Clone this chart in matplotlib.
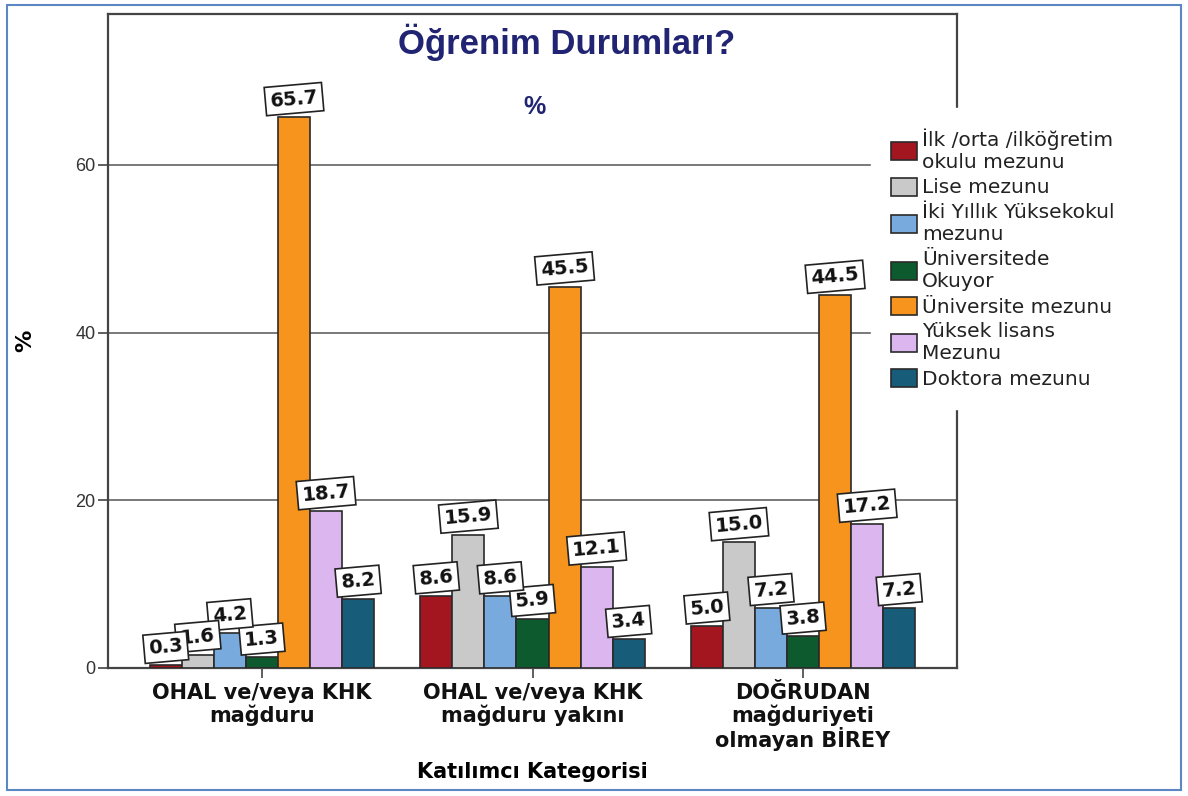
import matplotlib
matplotlib.use("Agg")
import matplotlib.pyplot as plt
import numpy as np
from matplotlib.patches import Rectangle

# kategoriler (x ekseni) ve öğrenim düzeyleri (seriler)
categories = ["OHAL ve/veya KHK\nmağduru",
              "OHAL ve/veya KHK\nmağduru yakını",
              "DOĞRUDAN\nmağduriyeti\nolmayan BİREY"]
levels = ["İlk /orta /ilköğretim\nokulu mezunu", "Lise mezunu",
          "İki Yıllık Yüksekokul\nmezunu", "Üniversitede\nOkuyor",
          "Üniversite mezunu", "Yüksek lisans\nMezunu", "Doktora mezunu"]

ilk_orta = [0.3, 8.6, 5.0]
lise = [1.6, 15.9, 15.0]
iki_yillik = [4.2, 8.6, 7.2]
uni_okuyor = [1.3, 5.9, 3.8]
uni_mezun = [65.7, 45.5, 44.5]
yuksek_lisans = [18.7, 12.1, 17.2]
doktora = [8.2, 3.4, 7.2]
series = [ilk_orta, lise, iki_yillik, uni_okuyor, uni_mezun, yuksek_lisans, doktora]

colors = ["#a4161f", "#c9c9c9", "#79aadd", "#0d5a2e", "#f7941d", "#dcb6ee", "#175c78"]

W, H = 1188, 796
fig = plt.figure(figsize=(W / 100, H / 100), dpi=100)
ax = fig.add_axes([108 / W, 1 - 668 / H, (957 - 108) / W, (668 - 14) / H])

x = np.arange(len(categories))
bw = 0.1185
handles = []
for i, (vals, c) in enumerate(zip(series, colors)):
    pos = x + (i - 3) * bw
    b = ax.bar(pos, vals, width=bw, color=c, edgecolor="#2a2a2a", linewidth=1.2, zorder=3)
    handles.append(b)
    for px, v in zip(pos, vals):
        ax.annotate(f"{v:.1f}", (px, v), xytext=(0, 13), textcoords="offset points",
                    ha="center", va="center", rotation=5, fontsize=14, fontweight="bold",
                    family="DejaVu Sans", color="#111",
                    bbox=dict(boxstyle="square,pad=0.24", fc="white", ec="#222", lw=1.2),
                    zorder=20 - i)

ax.set_xlim(-0.569, 2.569)
ax.set_ylim(0, 78)
ax.set_yticks([0, 20, 40, 60])
ax.set_yticklabels(["0", "20", "40", "60"], fontsize=13, family="Liberation Sans", color="#333")
ax.set_xticks(x)
ax.set_xticklabels(categories, fontsize=15, fontweight="bold", family="DejaVu Sans",
                   linespacing=1.05, color="#111")
ax.tick_params(axis="y", length=7, width=1.2, color="#444", pad=2)
ax.tick_params(axis="x", length=7, width=1.2, color="#444", pad=4)
ax.yaxis.grid(True, color="#555", lw=1.1)
ax.set_axisbelow(True)
for s in ax.spines.values():
    s.set_color("#444")
    s.set_linewidth(1.6)

ax.set_ylabel("%", fontsize=16, fontweight="bold", family="DejaVu Sans")
ax.yaxis.set_label_coords(-0.086, 0.5)
ax.set_xlabel("Katılımcı Kategorisi", fontsize=15, fontweight="bold", family="DejaVu Sans")
ax.xaxis.set_label_coords(0.5, -0.159)
ax.xaxis.label.set_va("center")

fig.text(567 / W, 1 - 42 / H, "Öğrenim Durumları?", ha="center", va="center",
         fontsize=25, fontweight="bold", family="Liberation Sans", color="#212472")
fig.text(534 / W, 1 - 107 / H, "%", ha="center", va="center",
         fontsize=18, fontweight="bold", family="Liberation Sans", color="#212472")

leg = ax.legend(handles, levels, loc="upper left", bbox_to_anchor=(871 / W, 1 - 108 / H),
                bbox_transform=fig.transFigure, borderaxespad=0, frameon=True, fancybox=False,
                edgecolor="white", facecolor="white", framealpha=1, borderpad=1.0,
                handlelength=1.3, handleheight=1.0, handletextpad=0.25, labelspacing=0.27,
                prop={"family": "DejaVu Sans", "size": 14.5})
for t in leg.get_texts():
    t.set_linespacing(1.23)
    t.set_color("#222")

fig.patches.append(Rectangle((7 / W, 1 - 790 / H), (1181 - 7) / W, (790 - 5) / H,
                             transform=fig.transFigure, fill=False, ec="#5b87c5", lw=1.5))

fig.savefig("out.png", dpi=100)
